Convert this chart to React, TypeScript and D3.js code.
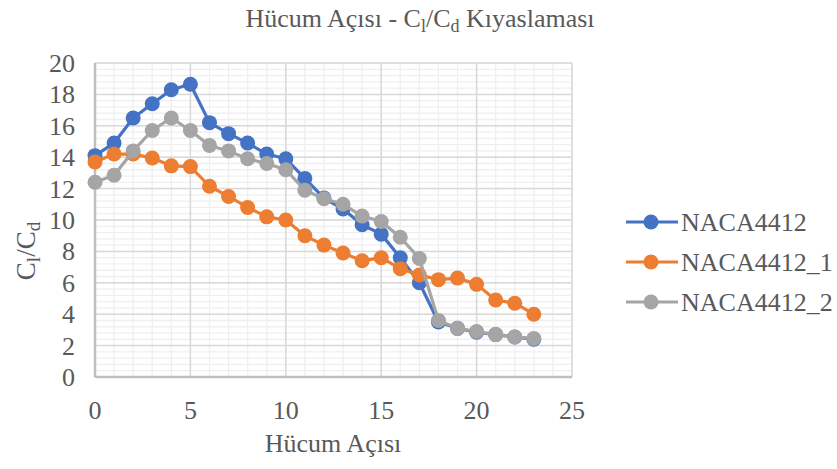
import React from "react";
import * as d3 from "d3";

const angles = [0,1,2,3,4,5,6,7,8,9,10,11,12,13,14,15,16,17,18,19,20,21,22,23];
const naca4412 = [14.1,14.9,16.5,17.4,18.3,18.65,16.2,15.5,14.9,14.2,13.9,12.65,11.4,10.7,9.7,9.1,7.6,6.0,3.5,3.1,2.85,2.7,2.55,2.4];
const naca4412_1 = [13.7,14.2,14.2,13.95,13.45,13.4,12.15,11.5,10.8,10.2,10.0,9.0,8.4,7.9,7.4,7.6,6.9,6.5,6.2,6.3,5.9,4.9,4.7,4.0];
const naca4412_2 = [12.4,12.85,14.4,15.7,16.5,15.7,14.75,14.4,13.9,13.6,13.2,11.9,11.35,11.0,10.25,9.9,8.9,7.55,3.6,3.1,2.9,2.7,2.55,2.45];
const seriesNames = ["NACA4412","NACA4412_1","NACA4412_2"];
const colors = ["#4472c4","#ed7d31","#a5a5a5"];
const xTicks = [0,5,10,15,20,25];
const yTicks = [0,2,4,6,8,10,12,14,16,18,20];

export default function App() {
  const W = 837, H = 469;
  const x = d3.scaleLinear().domain([0,25]).range([95,572]);
  const y = d3.scaleLinear().domain([0,20]).range([377,63]);
  const series = [naca4412, naca4412_1, naca4412_2];
  const line = d3.line<number>().x((_, i) => x(angles[i])).y(d => y(d));
  const minorX = d3.range(0, 25.001, 1);
  const minorY = d3.range(0, 20.001, 0.4);
  const font = "Liberation Serif";
  const tc = "#595959";
  const ts = { fontFamily: font };
  return (
    <svg width={W} height={H} style={{position:"absolute",left:0,top:0,background:"#fff",fontFamily:font}}>
      <rect width={W} height={H} fill="#fff" />
      {minorY.map((v,i)=> <line key={"my"+i} x1={x(0)} x2={x(25)} y1={y(v)} y2={y(v)} stroke="#efefef" strokeWidth={1.3}/>)}
      {minorX.map((v,i)=> <line key={"mx"+i} x1={x(v)} x2={x(v)} y1={y(0)} y2={y(20)} stroke="#efefef" strokeWidth={1.3}/>)}
      {yTicks.map((v,i)=> <line key={"gy"+i} x1={x(0)} x2={x(25)} y1={y(v)} y2={y(v)} stroke="#d9d9d9" strokeWidth={1.5}/>)}
      {xTicks.map((v,i)=> <line key={"gx"+i} x1={x(v)} x2={x(v)} y1={y(0)} y2={y(20)} stroke="#d9d9d9" strokeWidth={1.5}/>)}
      <line x1={x(0)} x2={x(25)} y1={y(0)} y2={y(0)} stroke="#bfbfbf" strokeWidth={2.5}/>
      <line x1={x(0)} x2={x(0)} y1={y(0)} y2={y(20)} stroke="#bfbfbf" strokeWidth={2.5}/>
      {series.map((s,si)=> (
        <g key={"s"+si}>
          <path d={line(s) || ""} fill="none" stroke={colors[si]} strokeWidth={3.2} strokeLinejoin="round"/>
          {s.map((v,i)=> <circle key={i} cx={x(angles[i])} cy={y(v)} r={7.5} fill={colors[si]} />)}
        </g>
      ))}
      {yTicks.map((v,i)=> <text key={"ty"+i} x={75} y={y(v)+9} textAnchor="end" fontSize={26} fill={tc} style={ts}>{v}</text>)}
      {xTicks.map((v,i)=> <text key={"tx"+i} x={x(v)} y={419} textAnchor="middle" fontSize={26} fill={tc} style={ts}>{v}</text>)}
      <text x={420} y={27} textAnchor="middle" fontSize={26} fill={tc} style={ts}>
        Hücum Açısı - C<tspan fontSize={18} dy={5}>l</tspan><tspan dy={-5}>/C</tspan><tspan fontSize={18} dy={5}>d</tspan><tspan dy={-5}> Kıyaslaması</tspan>
      </text>
      <text x={333} y={452} textAnchor="middle" fontSize={26} fill={tc} style={ts}>Hücum Açısı</text>
      <text transform={`translate(35,251) rotate(-90)`} textAnchor="middle" fontSize={27} fill={tc} style={ts}>
        C<tspan fontSize={19} dy={5}>l</tspan><tspan dy={-5}>/C</tspan><tspan fontSize={19} dy={5}>d</tspan>
      </text>
      {seriesNames.map((n,i)=> {
        const ly = 222 + i*40;
        return (
          <g key={"l"+i}>
            <line x1={626} x2={678} y1={ly} y2={ly} stroke={colors[i]} strokeWidth={3.2}/>
            <circle cx={651} cy={ly} r={7.5} fill={colors[i]}/>
            <text x={681} y={ly+9} fontSize={26} fill={tc} style={ts}>{n}</text>
          </g>
        );
      })}
    </svg>
  );
}
